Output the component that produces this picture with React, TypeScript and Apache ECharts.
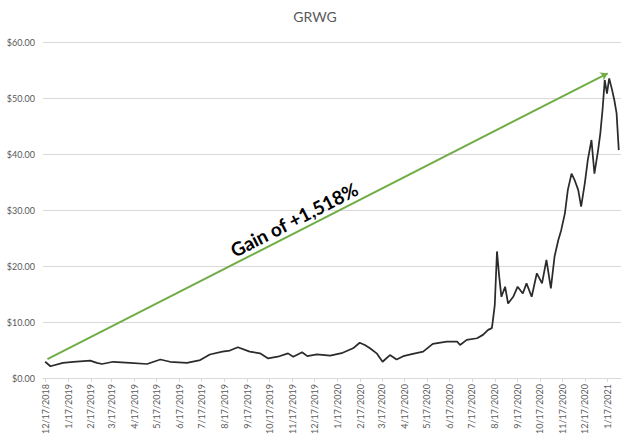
import React, { useEffect, useRef } from "react";
import * as echarts from "echarts";

const title = "GRWG";
const dates = [
  "2018-12-17","2018-12-24","2019-01-10","2019-01-24","2019-02-16","2019-02-25","2019-03-04","2019-03-19",
  "2019-04-11","2019-05-04","2019-05-22","2019-06-04","2019-06-27","2019-07-15","2019-07-28","2019-08-14",
  "2019-08-24","2019-09-04","2019-09-20","2019-10-04","2019-10-15","2019-10-28","2019-11-11","2019-11-18",
  "2019-11-30","2019-12-07","2019-12-20","2020-01-07","2020-01-24","2020-02-07","2020-02-16","2020-02-23",
  "2020-03-01","2020-03-10","2020-03-18","2020-03-28","2020-04-06","2020-04-15","2020-04-28","2020-05-12",
  "2020-05-25","2020-06-13","2020-06-27","2020-07-01","2020-07-10","2020-07-24","2020-08-01","2020-08-08",
  "2020-08-13","2020-08-14","2020-08-17","2020-08-20","2020-08-23","2020-08-26","2020-08-31","2020-09-04",
  "2020-09-11","2020-09-17","2020-09-24","2020-09-29","2020-10-06","2020-10-13","2020-10-20","2020-10-26",
  "2020-11-01","2020-11-06","2020-11-11","2020-11-15","2020-11-20","2020-11-24","2020-11-29","2020-12-03",
  "2020-12-08","2020-12-12","2020-12-17","2020-12-21","2020-12-26","2020-12-30","2021-01-04","2021-01-07",
  "2021-01-10","2021-01-13","2021-01-16","2021-01-19","2021-01-23","2021-01-26","2021-01-29","2021-02-01",
];
const prices = [
  2.9, 2.1, 2.7, 2.9, 3.1, 2.7, 2.5, 2.9,
  2.7, 2.5, 3.3, 2.9, 2.7, 3.2, 4.2, 4.7,
  4.9, 5.5, 4.7, 4.4, 3.5, 3.8, 4.4, 3.8,
  4.6, 3.9, 4.2, 4.0, 4.5, 5.3, 6.3, 5.9,
  5.3, 4.4, 2.9, 4.1, 3.3, 3.9, 4.3, 4.7,
  6.1, 6.5, 6.5, 5.9, 6.8, 7.1, 7.7, 8.6,
  8.9, 9.8, 13.0, 22.6, 18.1, 14.5, 16.3, 13.3,
  14.5, 16.3, 15.1, 16.9, 14.5, 18.7, 16.9, 21.1,
  16.0, 21.7, 24.6, 26.4, 29.4, 33.6, 36.5, 35.4,
  33.6, 30.6, 34.8, 38.9, 42.5, 36.5, 40.7, 43.7,
  47.9, 53.2, 50.8, 53.5, 51.4, 49.6, 47.3, 40.7,
];
const tickDates = [
  "2018-12-17","2019-01-17","2019-02-17","2019-03-17","2019-04-17","2019-05-17","2019-06-17",
  "2019-07-17","2019-08-17","2019-09-17","2019-10-17","2019-11-17","2019-12-17","2020-01-17",
  "2020-02-17","2020-03-17","2020-04-17","2020-05-17","2020-06-17","2020-07-17","2020-08-17",
  "2020-09-17","2020-10-17","2020-11-17","2020-12-17","2021-01-17",
];
const gainStart = { date: "2018-12-20", value: 3.36 };
const gainEnd = { date: "2021-01-17", value: 54.4 };
const gainLabel = "Gain of +1,518%";
const axisMin = "2018-12-14";
const axisMax = "2021-02-04";

function ts(s: string): number {
  const [y, m, d] = s.split("-").map(Number);
  return new Date(y, m - 1, d).getTime();
}

export default function App() {
  const ref = useRef<HTMLDivElement>(null);
  useEffect(() => {
    if (!ref.current) return;
    const chart = echarts.init(ref.current, undefined, { renderer: "svg" });
    const font = "Lato, 'Open Sans', sans-serif";
    const ticks = tickDates.map(ts);
    chart.setOption({
      animation: false,
      backgroundColor: "#ffffff",
      title: {
        text: title,
        left: "center",
        top: 4,
        textStyle: { color: "#595959", fontSize: 14, fontWeight: "normal", fontFamily: font },
      },
      grid: { left: 43, right: 9, top: 42, bottom: 70, containLabel: false },
      xAxis: {
        type: "value",
        min: ts(axisMin),
        max: ts(axisMax),
        axisLine: { show: true, lineStyle: { color: "#d9d9d9" } },
        axisTick: { show: true, customValues: ticks, length: 4, lineStyle: { color: "#d9d9d9" } },
        splitLine: { show: false },
        axisLabel: {
          customValues: ticks,
          rotate: 90,
          color: "#595959",
          fontSize: 9,
          fontFamily: font,
          margin: 6,
          formatter: (v: number) => {
            const d = new Date(v);
            return `${d.getMonth() + 1}/${d.getDate()}/${d.getFullYear()}`;
          },
        },
      },
      yAxis: {
        type: "value",
        min: 0,
        max: 60,
        interval: 10,
        axisLine: { show: false },
        axisTick: { show: false },
        splitLine: { lineStyle: { color: "#d9d9d9", width: 1 } },
        axisLabel: {
          color: "#595959",
          fontSize: 9,
          fontFamily: font,
          margin: 8,
          formatter: (v: number) => "$" + v.toFixed(2),
        },
      },
      series: [
        {
          type: "line",
          data: dates.map((d, i) => [ts(d), prices[i]]),
          showSymbol: false,
          symbol: "none",
          lineStyle: { color: "#2b2b2b", width: 1.75 },
          z: 3,
          markLine: {
            silent: true,
            symbol: ["none", "arrow"],
            symbolSize: [7, 7],
            lineStyle: { color: "#70ad47", width: 2, type: "solid" },
            label: {
              show: true,
              position: "insideStartTop",
              formatter: gainLabel,
              color: "#000000",
              fontSize: 19,
              fontWeight: "bold",
              fontFamily: font,
              distance: [213, 3],
            },
            data: [
              [
                { coord: [ts(gainStart.date), gainStart.value] },
                { coord: [ts(gainEnd.date), gainEnd.value] },
              ],
            ],
          },
        },
      ],
    });
    return () => chart.dispose();
  }, []);
  return <div ref={ref} style={{ width: 630, height: 448, position: "absolute", left: 0, top: 0 }} />;
}
